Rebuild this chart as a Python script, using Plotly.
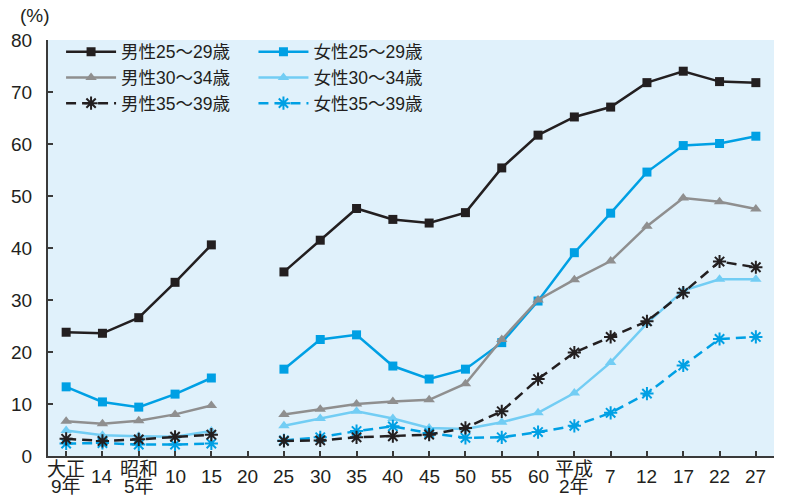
import plotly.graph_objects as go

# Survey years (Taisho 9 .. Heisei 27); no census values for Showa 20
x_labels = ["大正<br>9年", "14", "昭和<br>5年", "10", "15", "20", "25", "30", "35", "40",
            "45", "50", "55", "60", "平成<br>2年", "7", "12", "17", "22", "27"]

# Unmarried rate (%) by sex and age group
male_25_29 = [23.8, 23.6, 26.6, 33.4, 40.6, None, 35.4, 41.5, 47.6, 45.5,
              44.8, 46.8, 55.4, 61.7, 65.2, 67.1, 71.8, 74.0, 72.0, 71.8]
male_30_34 = [6.7, 6.2, 6.8, 8.0, 9.7, None, 8.0, 9.0, 10.0, 10.5,
              10.8, 13.9, 22.4, 30.0, 33.9, 37.5, 44.2, 49.6, 48.9, 47.5]
male_35_39 = [3.3, 2.9, 3.2, 3.7, 4.1, None, 2.9, 3.0, 3.6, 3.8,
              4.1, 5.4, 8.6, 14.8, 19.9, 22.9, 25.9, 31.4, 37.4, 36.3]
female_25_29 = [13.3, 10.4, 9.4, 11.9, 15.0, None, 16.7, 22.4, 23.3, 17.3,
                14.8, 16.7, 21.8, 29.8, 39.1, 46.7, 54.6, 59.7, 60.1, 61.5]
female_30_34 = [4.9, 4.0, 3.8, 3.7, 4.8, None, 5.8, 7.2, 8.6, 7.2,
                5.4, 5.2, 6.5, 8.3, 12.1, 18.0, 25.5, 31.8, 34.0, 34.0]
female_35_39 = [2.4, 2.5, 2.2, 2.2, 2.4, None, 3.0, 3.6, 4.8, 5.7,
                4.4, 3.5, 3.6, 4.6, 5.8, 8.3, 12.0, 17.4, 22.5, 22.9]

FONT = "Liberation Sans, Noto Sans CJK JP, sans-serif"
BLACK = "#231f20"
GRAY = "#8f8f8f"
BLUE = "#00a0e4"
LIGHT = "#72cdf4"
DASH = "10px,6px"

x = list(range(len(x_labels)))

series = [
    ("男性25～29歳", male_25_29, BLACK, "solid", "square", 9, "legend"),
    ("男性30～34歳", male_30_34, GRAY, "solid", "triangle-up", 10, "legend"),
    ("男性35～39歳", male_35_39, BLACK, DASH, "asterisk-open", 11, "legend"),
    ("女性25～29歳", female_25_29, BLUE, "solid", "square", 9, "legend2"),
    ("女性30～34歳", female_30_34, LIGHT, "solid", "triangle-up", 10, "legend2"),
    ("女性35～39歳", female_35_39, BLUE, DASH, "asterisk-open", 11, "legend2"),
]

fig = go.Figure()
# draw female series first so the male lines sit on top
for name, vals, color, dash, symbol, size, leg in series[3:] + series[:3]:
    fig.add_trace(go.Scatter(
        x=x, y=vals, name=name, mode="lines+markers",
        connectgaps=False, legend=leg,
        line=dict(color=color, width=2.5, dash=dash),
        marker=dict(symbol=symbol, size=size, color=color,
                    line=dict(color=color, width=2 if "asterisk" in symbol else 0)),
    ))

# category labels below the axis, one annotation per text line
for i, lab in enumerate(x_labels):
    lines = lab.split("<br>")
    shifts = [-20.5] if len(lines) == 1 else [-13, -30]
    for text, ys in zip(lines, shifts):
        fig.add_annotation(x=i, y=0, xref="x", yref="paper", text=text,
                           showarrow=False, yanchor="middle", xanchor="center",
                           yshift=ys, borderpad=0,
                           font=dict(family=FONT, size=19, color="#231f20"))

fig.add_annotation(x=0, y=1, xref="paper", yref="paper", text="(%)",
                   showarrow=False, xanchor="center", yanchor="middle",
                   xshift=-13, yshift=25, font=dict(family=FONT, size=19, color="#231f20"))

legend_common = dict(
    bgcolor="rgba(0,0,0,0)", borderwidth=0, orientation="v",
    font=dict(family=FONT, size=17.5, color="#231f20"),
    yanchor="top", xanchor="left", itemwidth=50, tracegroupgap=0,
    traceorder="normal",
)

fig.update_layout(
    width=787, height=496,
    margin=dict(l=48, r=13, t=40, b=40),
    paper_bgcolor="white",
    plot_bgcolor="#e0f1fb",
    font=dict(family=FONT, size=19, color="#231f20"),
    legend=dict(x=0.018, y=1.015, **legend_common),
    legend2=dict(x=0.283, y=1.015, **legend_common),
    xaxis=dict(
        range=[-0.5, len(x_labels) - 0.5], tickvals=x, showticklabels=False,
        showgrid=False, zeroline=False, showline=True, linecolor="#3a3a3a",
        linewidth=2, ticks="inside", ticklen=5, tickcolor="#3a3a3a", tickwidth=1.5,
    ),
    yaxis=dict(
        range=[0, 80], dtick=10, showgrid=False, zeroline=False, showline=True,
        linecolor="#3a3a3a", linewidth=2, ticks="inside", ticklen=5,
        tickcolor="#3a3a3a", tickwidth=1.5, ticklabelstandoff=10,
        tickfont=dict(family=FONT, size=19, color="#231f20"),
    ),
)

fig.write_html("out.html")
